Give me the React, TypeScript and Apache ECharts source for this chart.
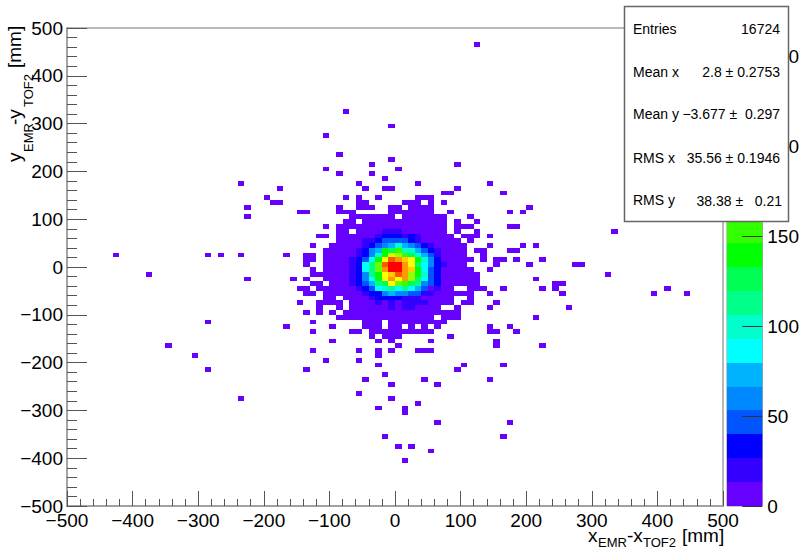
import React, { useEffect, useRef } from "react";
import * as echarts from "echarts";

const FONT = "'Liberation Sans', Arial, sans-serif";

// Histogram binning (mm)
const BIN_WIDTH = 10;
const AXIS_MIN = -500;
const AXIS_MAX = 500;
const COUNT_MAX = 266;
const COLOR_TICKS = [0, 50, 100, 150, 200, 250];

// 20 contour colours, lowest to highest
const bandColors = [
  "#6600ff", "#3300ff", "#0000ff", "#0055ff", "#0088ff",
  "#00b3ff", "#00ffff", "#00ffcc", "#00ff88", "#00ff55",
  "#00ff00", "#33ff00", "#66ff00", "#99ff00", "#ccff00",
  "#ffff00", "#ffcc00", "#ff9900", "#ff5500", "#ff0000",
];

// Occupied bins with low counts: [row index, column indexes and runs]
const upperBins: [number, string][] = [
  [96, "62"], [82, "42"], [79, "49"], [77, "39"], [73, "41"], [72, "49"],
  [71, "46 59"], [70, "39 50"], [69, "41 46"], [68, "48"],
  [67, "26 44 53 64"], [66, "32 45 48-49 59"], [65, "57-58 66"],
  [64, "30 42 44 47 53-55"], [63, "31-32 44-45 51-53 55 57"],
  [62, "27 41 44-46 49-50 52-55 70"],
  [61, "35-36 41-43 49-55 58 67 69"],
  [60, "27 43-49 51-57 61"],
  [59, "42-43 45-57 59 62"],
  [58, "39 41-57 59-61 67-68"],
  [57, "41-42 44-57 59 62 83"],
  [56, "38-39 41-58 60-62 64"],
  [55, "41-59 61"],
  [54, "37 40-60 64 69 71"],
  [53, "39-60 62-63 67-68"],
];
const middleBins: [number, string][] = [
  [52, "7 21 23 26 33 36-37 39-60 63"],
  [51, "36-37 39-61 63 65-66 68 72"],
  [50, "36 39-60 65 70 77-78"],
  [49, "37 39-61 64"],
  [48, "12 37-62 82"],
  [47, "27 34 36 39-62 71"],
  [46, "37-38 40-62 74-75"],
  [45, "35-36 38-58 61-63 66 72 74 91"],
  [44, "36-37 39-61 64 75 89 94"],
  [43, "39-40 42-58 61"],
  [42, "35 38-41 43-58 60-61 65"],
  [41, "38 41 43-56 59 64 76"],
  [40, "36 38 40 42-59"],
  [39, "41-55 57-59 71"],
  [38, "21 37 45-47 49-57"],
  [37, "33 40 45-47 49-50 52 54 56 64 67"],
  [36, "37 43-44 46-55 64-65 68"],
];
const lowerBins: [number, string][] = [
  [35, "46 48-50 58"], [34, "40 47 49 55 65"], [33, "15 50 65 72"],
  [32, "37 44 47 49 53-55"], [31, "19 47"], [30, "39 44"],
  [29, "47 60 66"], [28, "21 36 59"], [27, "48"], [26, "45 54 64"],
  [25, "49 56"], [23, "44"], [22, "26 49"], [21, "53"], [20, "47 51"],
  [19, "51"], [17, "56 67"], [14, "48 66"], [12, "50 52"], [11, "55"], [9, "51"],
];
const LOW_COUNT = 7;

// Core of the distribution: [row index, first column, counts...]
const coreRows: number[][] = [
  [57, 48, 20, 20, 20],
  [56, 47, 20, 33, 33, 33, 20, 33, 20],
  [55, 45, 20, 20, 33, 47, 47, 47, 47, 33, 20],
  [54, 45, 20, 33, 47, 60, 73, 100, 73, 60, 47, 33, 20],
  [53, 44, 20, 33, 60, 73, 140, 126, 153, 100, 100, 73, 47, 33, 20],
  [52, 44, 20, 33, 60, 100, 140, 193, 180, 153, 126, 100, 73, 47, 20],
  [51, 43, 20, 33, 47, 86, 140, 206, 246, 233, 219, 206, 140, 100, 60, 33],
  [50, 43, 20, 33, 86, 113, 166, 246, 260, 260, 233, 206, 126, 86, 60, 33, 20],
  [49, 43, 20, 33, 86, 113, 166, 233, 265, 260, 233, 219, 140, 86, 47, 33],
  [48, 43, 20, 33, 60, 113, 140, 206, 219, 246, 233, 180, 140, 100, 47, 33],
  [47, 43, 20, 33, 60, 86, 140, 206, 233, 206, 233, 180, 126, 86, 47, 33],
  [46, 43, 20, 33, 47, 73, 113, 126, 206, 166, 153, 126, 113, 60, 47, 33],
  [45, 44, 20, 33, 47, 86, 100, 113, 86, 113, 86, 73, 47, 7, 20],
  [44, 45, 20, 33, 33, 60, 73, 60, 60, 47, 47, 20, 20],
  [43, 46, 20, 33, 33, 33, 33, 20, 20, 20],
  [42, 47, 20, 7, 20, 7, 20, 20, 20, 20],
  [41, 49, 20, 7, 20, 20],
];

// Statistics box
const statNames = ["Entries", "Mean x", "Mean y", "RMS x", "RMS y"];
const statValues = [
  "16724",
  "2.8 ± 0.2753",
  "\u22123.677 ±  0.297",
  "35.56 ± 0.1946",
  "38.38 ±   0.21",
];

function buildCells(): number[][] {
  const counts = new Map<string, number>();
  for (const [row, spec] of [...upperBins, ...middleBins, ...lowerBins]) {
    for (const part of spec.split(" ")) {
      const [a, b] = part.split("-").map(Number);
      for (let col = a; col <= (b ?? a); col++) counts.set(col + "," + row, LOW_COUNT);
    }
  }
  for (const [row, first, ...vals] of coreRows) {
    vals.forEach((v, k) => counts.set(first + k + "," + row, v));
  }
  const cells: number[][] = [];
  counts.forEach((v, key) => {
    const [col, row] = key.split(",").map(Number);
    cells.push([AXIS_MIN + col * BIN_WIDTH, AXIS_MIN + row * BIN_WIDTH, v]);
  });
  return cells;
}

const bandStep = COUNT_MAX / bandColors.length;
const colorOf = (v: number) =>
  bandColors[Math.min(bandColors.length - 1, Math.floor(v / bandStep))];
const fmt = (v: number) => (v < 0 ? "\u2212" + Math.abs(v) : String(v));

function App() {
  const ref = useRef<HTMLDivElement>(null);
  useEffect(() => {
    const chart = echarts.init(ref.current!, undefined, { renderer: "svg" });
    const txt = (text: string, x: number, y: number, size: number, rot = 0, align = "left") => ({
      type: "text",
      x,
      y,
      rotation: rot,
      z: 110,
      style: { text, fontFamily: FONT, fontSize: size, fill: "#000", align, verticalAlign: "middle" },
    });
    const R = Math.PI / 2;
    const statY = [29, 72, 114, 158, 200];
    const statRight = [780, 780, 780, 780, 782];
    chart.setOption({
      animation: false,
      backgroundColor: "#fff",
      grid: [
        { left: 67, top: 28, width: 656, height: 478, show: true, borderColor: "#a3a3a3", borderWidth: 1.5, backgroundColor: "transparent" },
        { left: 727, top: 28, width: 37, height: 478, show: true, borderColor: "#8c8c8c", borderWidth: 1, backgroundColor: "transparent" },
      ],
      xAxis: [
        {
          type: "value", gridIndex: 0, min: AXIS_MIN, max: AXIS_MAX, interval: 100,
          splitLine: { show: false },
          axisLine: { show: true, onZero: false, lineStyle: { color: "#a3a3a3", width: 2 } },
          axisTick: { show: true, inside: true, length: 15, lineStyle: { color: "#555", width: 1 } },
          minorTick: { show: true, splitNumber: 5, length: 7, lineStyle: { color: "#555", width: 1 } },
          axisLabel: { show: true, formatter: fmt, fontFamily: FONT, fontSize: 19, color: "#000", margin: 5, showMinLabel: true, showMaxLabel: true, hideOverlap: false },
        },
        { type: "value", gridIndex: 1, min: 0, max: 1, show: false },
      ],
      yAxis: [
        {
          type: "value", gridIndex: 0, min: AXIS_MIN, max: AXIS_MAX, interval: 100,
          splitLine: { show: false },
          axisLine: { show: true, onZero: false, lineStyle: { color: "#a3a3a3", width: 2 } },
          axisTick: { show: true, inside: true, length: 20, lineStyle: { color: "#555", width: 1 } },
          minorTick: { show: true, splitNumber: 5, length: 10, lineStyle: { color: "#555", width: 1 } },
          axisLabel: { show: true, formatter: fmt, fontFamily: FONT, fontSize: 19, color: "#000", margin: 4, showMinLabel: true, showMaxLabel: true, hideOverlap: false },
        },
        {
          type: "value", gridIndex: 1, position: "right", min: 0, max: COUNT_MAX,
          splitLine: { show: false },
          axisLine: { show: false, onZero: false },
          axisTick: { show: true, inside: true, length: 20, customValues: COLOR_TICKS, lineStyle: { color: "#333", width: 1 } },
          axisLabel: { show: true, customValues: COLOR_TICKS, formatter: (v: number) => String(v), fontFamily: FONT, fontSize: 19, color: "#000", margin: 5, hideOverlap: false },
          z: 3,
        },
      ],
      series: [
        {
          type: "custom", coordinateSystem: "cartesian2d", xAxisIndex: 0, yAxisIndex: 0,
          clip: true, silent: true, z: 1,
          data: buildCells(),
          encode: { x: 0, y: 1 },
          renderItem: (_p: any, api: any) => {
            const x = api.value(0), y = api.value(1);
            const a = api.coord([x, y + BIN_WIDTH]);
            const b = api.coord([x + BIN_WIDTH, y]);
            const l = Math.round(a[0]), t = Math.round(a[1]);
            return {
              type: "rect",
              shape: { x: l, y: t, width: Math.round(b[0]) - l, height: Math.round(b[1]) - t },
              style: { fill: colorOf(api.value(2)) },
            };
          },
        },
        {
          type: "custom", coordinateSystem: "cartesian2d", xAxisIndex: 1, yAxisIndex: 1,
          clip: true, silent: true, z: 1,
          data: bandColors.map((_, i) => [0, i * bandStep, (i + 1) * bandStep]),
          encode: { x: 0, y: [1, 2] },
          renderItem: (_p: any, api: any) => {
            const a = api.coord([0, api.value(2)]);
            const b = api.coord([1, api.value(1)]);
            const t = Math.round(a[1]);
            return {
              type: "rect",
              shape: { x: a[0], y: t, width: b[0] - a[0], height: Math.round(b[1]) - t },
              style: { fill: colorOf(api.value(1) + 0.5) },
            };
          },
        },
      ],
      graphic: [
        {
          type: "rect", z: 100,
          shape: { x: 624.5, y: 6.5, width: 164, height: 215 },
          style: { fill: "#fff", stroke: "#666", lineWidth: 1.5 },
        },
        ...statNames.map((s, i) => txt(s, 633, statY[i], 14)),
        ...statValues.map((s, i) => txt(s, statRight[i], statY[i] + (i === 4 ? 1 : 0), 14, 0, "right")),
        txt("x", 588, 535, 19),
        txt("EMR", 598, 542.5, 13),
        txt("-x", 627, 535, 19),
        txt("TOF2", 643, 542.5, 13),
        txt("[mm]", 682, 535, 19),
        txt("y", 14.5, 162, 19, R),
        txt("EMR", 28.5, 152, 13, R),
        txt("-y", 14.5, 125, 19, R),
        txt("TOF2", 28.5, 107, 13, R),
        txt("[mm]", 14.5, 68, 19, R),
      ],
    });
    return () => chart.dispose();
  }, []);
  return <div ref={ref} style={{ position: "fixed", left: 0, top: 0, width: 802, height: 549 }} />;
}

export default App;
